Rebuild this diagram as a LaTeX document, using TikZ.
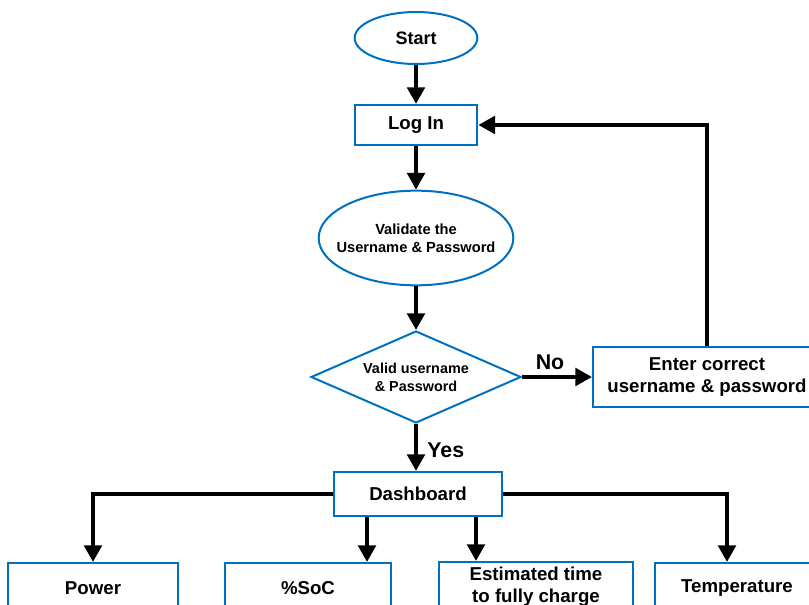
\documentclass[tikz,border=0pt]{standalone}
\usepackage{fontspec}
\setmainfont{Liberation Sans}
\usetikzlibrary{shapes.geometric,arrows.meta}
\definecolor{boxblue}{RGB}{0,112,192}

\begin{document}
\begin{tikzpicture}[x=0.75pt,y=0.75pt,yscale=-1,xscale=1,
  blk/.style={draw=boxblue,line width=1.5pt,fill=white,align=center,inner sep=0.75pt,font=\bfseries\fontsize{14}{16.5}\selectfont},
  oval/.style={blk,ellipse},
  decide/.style={blk,diamond,aspect=2.28,inner sep=0pt},
  flow/.style={line width=3.5pt,-{Triangle[length=12.5pt,width=13pt]}},
  lbl/.style={font=\bfseries\fontsize{16}{18}\selectfont,inner sep=0.75pt}]
\useasboundingbox (0,0) rectangle (809,605);
\node [oval,minimum width=92pt,minimum height=39pt,font=\bfseries\fontsize{13.5}{16}\selectfont] (start) at (416,38) {Start};
\node [blk,minimum width=92pt,minimum height=30pt] (login) at (416,125) {Log In};
\node [oval,inner xsep=-8pt,minimum width=144pt,minimum height=71pt,font=\bfseries\fontsize{11}{13.3}\selectfont] (validate) at (416,238) {Validate the\\Username \& Password};
\node [decide,minimum width=157.5pt,minimum height=69pt,font=\bfseries\fontsize{10.8}{13.3}\selectfont] (check) at (416,377) {Valid username\\\& Password};
\node [blk,minimum width=171pt,minimum height=45pt] (retry) at (707,377) {Enter correct\\username \& password};
\node [blk,minimum width=126pt,minimum height=33pt] (dash) at (418,494) {Dashboard};
\node [blk,minimum width=127.5pt,minimum height=37.5pt] (power) at (93,588) {Power};
\node [blk,minimum width=125pt,minimum height=37.5pt] (soc) at (308,588) {\%SoC};
\node [blk,minimum width=145pt,minimum height=37.5pt] (eta) at (536,587) {Estimated time\\to fully charge};
\node [blk,minimum width=123pt,minimum height=37.5pt] (temp) at (737,588) {Temperature};
\coordinate (d1) at ([xshift=-38.25pt]dash.south);
\coordinate (d2) at ([xshift=43.5pt]dash.south);
\coordinate (t1) at ([xshift=-7.5pt]temp.north);
\draw [flow] (start) -- (login);
\draw [flow] (login) -- (validate);
\draw [flow] (validate) -- (check);
\draw [flow] (check.east) -- node [lbl,above=3pt,pos=0.4] {No} (retry.west);
\draw [flow] (retry.north) |- (login.east);
\draw [flow] (check.south) -- node [lbl,right=6pt,pos=0.55] {Yes} (check.south |- dash.north);
\draw [flow] (dash.west) -| (power.north);
\draw [flow] (d1) -- (d1 |- soc.north);
\draw [flow] (d2) -- (d2 |- eta.north);
\draw [flow] (dash.east) -| (t1);
\end{tikzpicture}
\end{document}
